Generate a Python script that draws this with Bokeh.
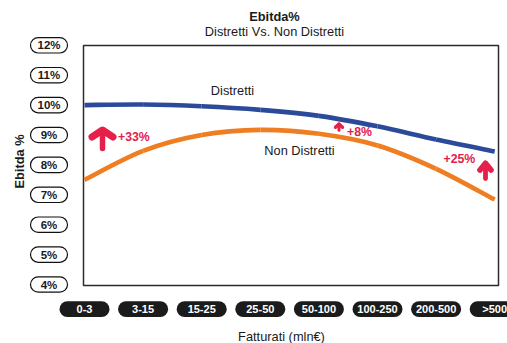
import numpy as np
from bokeh.plotting import figure
from bokeh.models import Range1d
from bokeh.core.properties import value
from bokeh.embed import file_html
from bokeh.resources import INLINE

# --- data -------------------------------------------------------------
categories = ["0-3", "3-15", "15-25", "25-50", "50-100", "100-250", "200-500", ">500"]
distretti = [10.0, 10.02, 9.96, 9.84, 9.64, 9.29, 8.85, 8.45]
non_distretti = [7.5, 8.47, 9.0, 9.17, 9.04, 8.65, 7.87, 6.84]
y_ticks = [4, 5, 6, 7, 8, 9, 10, 11, 12]
y_tick_labels = ["4%", "5%", "6%", "7%", "8%", "9%", "10%", "11%", "12%"]
gap_labels = ["+33%", "+8%", "+25%"]

# --- canvas geometry ---------------------------------------------------
W, H = 507, 343
FL = 84.0      # pixel column of the first category
DX = 58.6      # pixels per category
Y0PX = 284.0   # pixel row of the 4% level
DY = 29.9      # pixels per percentage point
FONT = value("Liberation Sans")
RED = "#e4204b"


def gx(px):
    return (px - FL) / DX


def gy(py):
    return 4 + (Y0PX - py) / DY


p = figure(width=W, height=H, output_backend="svg", toolbar_location=None,
           x_range=Range1d(gx(0), gx(W)), y_range=Range1d(gy(H), gy(0)),
           x_axis_type=None, y_axis_type=None, min_border=0,
           outline_line_color=None, background_fill_color="white")
p.grid.visible = False

# plot frame
p.quad(left=gx(83), right=gx(498), top=gy(45), bottom=gy(285),
       fill_color=None, line_color="#2a2a2a", line_width=1.5)


def smooth(vals):
    """Catmull-Rom control points for a smooth curve through the values."""
    y = np.asarray(vals, dtype=float)
    x = np.arange(len(y), dtype=float)
    xp = np.concatenate([[x[0]], x, [x[-1]]])
    yp = np.concatenate([[y[0]], y, [y[-1]]])
    n = len(y) - 1
    d = dict(x0=x[:-1], y0=y[:-1], x1=x[1:], y1=y[1:])
    d["cx0"] = x[:-1] + (xp[2:n + 2] - xp[0:n]) / 6
    d["cy0"] = y[:-1] + (yp[2:n + 2] - yp[0:n]) / 6
    d["cx1"] = x[1:] - (xp[3:n + 3] - xp[1:n + 1]) / 6
    d["cy1"] = y[1:] - (yp[3:n + 3] - yp[1:n + 1]) / 6
    return d


p.bezier(**smooth(non_distretti), line_color="#ef7d22", line_width=4.6)
p.bezier(**smooth(distretti), line_color="#2c4a9a", line_width=4.6)

# y tick pills
yt = np.array(y_ticks, dtype=float)
hh = 7.7 / DY
p.quad(left=gx(30), right=gx(67), top=yt + hh, bottom=yt - hh,
       fill_color="white", line_color="#111111", line_width=1.2,
       border_radius=8)
p.text(x=[gx(48.5)] * len(yt), y=yt, text=y_tick_labels, text_font=FONT,
       text_font_size="11.5px", text_font_style="bold", text_color="#1a1a1a",
       text_align="center", text_baseline="middle")

# category pills
xc = np.arange(len(categories), dtype=float)
hw = 25.0 / DX
p.quad(left=xc - hw, right=xc + hw, top=gy(300.8), bottom=gy(316.6),
       fill_color="#1b1b1b", line_color=None, border_radius=8)
p.text(x=xc, y=[gy(308.8)] * len(xc), text=categories, text_font=FONT,
       text_font_size="11px", text_font_style="bold", text_color="white",
       text_align="center", text_baseline="middle")

# arrows marking the gap between the two series
heads_x = [[91.5, 102, 112.5], [335, 338.5, 342], [479.5, 485, 490.5]]
heads_y = [[136.5, 129.5, 136.5], [126.8, 123.6, 126.8], [169.5, 162.8, 169.5]]
shafts_x = [[102, 102], [338.5, 338.5], [485, 485]]
shafts_y = [[129.5, 148], [123.6, 129.8], [162.8, 178]]
p.multi_line(xs=[[gx(v) for v in a] for a in shafts_x],
             ys=[[gy(v) for v in a] for a in shafts_y],
             line_color=RED, line_width=[5.5, 3.0, 4.8],
             line_cap="round", line_join="round")
p.multi_line(xs=[[gx(v) for v in a] for a in heads_x],
             ys=[[gy(v) for v in a] for a in heads_y],
             line_color=RED, line_width=[7, 3.4, 5.6],
             line_cap="round", line_join="round")
p.text(x=[gx(117.5), gx(346.5), gx(443)], y=[gy(136), gy(131), gy(158)],
       text=gap_labels, text_font=FONT, text_font_size="12.3px",
       text_font_style="bold", text_color=RED,
       text_align="left", text_baseline="middle")

# series names
p.text(x=[gx(232), gx(299)], y=[gy(90), gy(150)],
       text=["Distretti", "Non Distretti"], text_font=FONT,
       text_font_size="12.8px", text_color="#1a1a1a",
       text_align="center", text_baseline="middle")

# titles and axis names
p.text(x=[gx(274)], y=[gy(16)], text=["Ebitda%"], text_font=FONT,
       text_font_size="12.8px", text_font_style="bold", text_color="#1a1a1a",
       text_align="center", text_baseline="middle")
p.text(x=[gx(274)], y=[gy(31)], text=["Distretti Vs. Non Distretti"],
       text_font=FONT, text_font_size="12.8px", text_color="#1a1a1a",
       text_align="center", text_baseline="middle")
p.text(x=[gx(281)], y=[gy(336)], text=["Fatturati (mln€)"], text_font=FONT,
       text_font_size="12.8px", text_color="#1a1a1a",
       text_align="center", text_baseline="middle")
p.text(x=[gx(19)], y=[gy(161)], text=["Ebitda %"], text_font=FONT,
       text_font_size="12.8px", text_font_style="bold", text_color="#1a1a1a",
       text_align="center", text_baseline="middle", angle=np.pi / 2)

open("out.html", "w").write(file_html(p, INLINE))
